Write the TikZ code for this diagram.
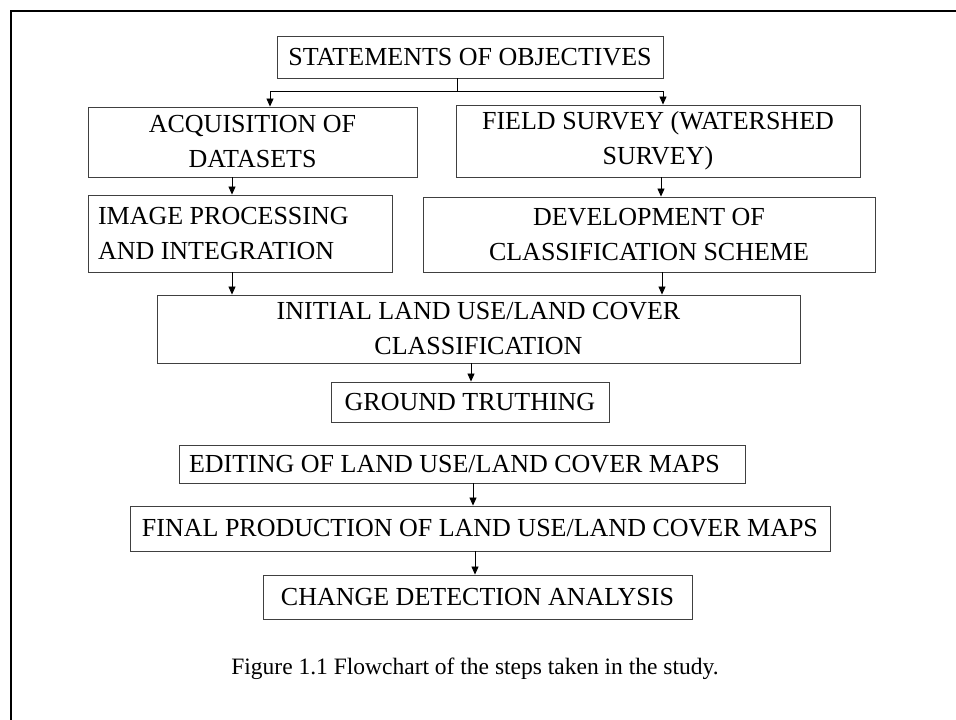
\documentclass[tikz,border=0pt]{standalone}
\usepackage{fontspec}
\setmainfont{Liberation Serif}
\usetikzlibrary{arrows.meta,positioning}

\begin{document}
\begin{tikzpicture}[
  x=1pt, y=-1pt,
  block/.style={draw=black!75, line width=0.9pt, inner sep=0pt, align=center, font=\fontsize{26}{35}\selectfont},
  leftblock/.style={block, align=flush left, inner xsep=10pt},
  arrow/.style={-{Triangle[length=8pt,width=7pt]}, line width=0.8pt}
]
\useasboundingbox (0,0) rectangle (956,720);
\draw[line width=2.5pt] (11,720) -- (11,11) -- (956,11);

\node[block, minimum width=386pt, minimum height=42pt] (stmt) at (470,57) {STATEMENTS OF OBJECTIVES};
\node[block, minimum width=329pt, minimum height=70pt] (acq) at (252.5,142) {ACQUISITION OF\\DATASETS};
\node[block, minimum width=404pt, minimum height=72pt] (field) at (658,141) {FIELD SURVEY (WATERSHED\\SURVEY)};
\node[leftblock, text width=284pt, minimum height=77pt] (image) at (240,233.5) {IMAGE PROCESSING\\AND INTEGRATION};
\node[block, minimum width=452pt, minimum height=75pt] (dev) at (649,234.5) {DEVELOPMENT OF\\CLASSIFICATION SCHEME};
\node[block, minimum width=643pt, minimum height=68pt] (init) at (478.5,329) {INITIAL LAND USE/LAND COVER\\CLASSIFICATION};
\node[block, minimum width=278pt, minimum height=40pt] (ground) at (470,402) {GROUND TRUTHING};
\node[leftblock, text width=546pt, minimum height=38pt] (edit) at (462,464) {EDITING OF LAND USE/LAND COVER MAPS};
\node[block, minimum width=700pt, minimum height=45pt] (final) at (480,528.5) {FINAL PRODUCTION OF LAND USE/LAND COVER MAPS};
\node[block, minimum width=429pt, minimum height=44pt] (change) at (477.5,597) {CHANGE DETECTION ANALYSIS};

\node[anchor=base, font=\fontsize{23.5}{28}\selectfont] (caption) at (475,674) {Figure 1.1 Flowchart of the steps taken in the study.};

% split below the objectives
\coordinate (split) at (457,91);
\draw[line width=0.8pt] ([xshift=-13pt]stmt.south) -- (split);
\draw[arrow] (split) -| ([xshift=17.5pt]acq.north);
\draw[arrow] (split) -| ([xshift=5pt]field.north);

\draw[arrow] ([xshift=-20.5pt]acq.south) -- ([xshift=-20.5pt]acq.south |- image.north);
\draw[arrow] ([xshift=3pt]field.south) -- ([xshift=3pt]field.south |- dev.north);
\draw[arrow] ([xshift=-8pt]image.south) -- ([xshift=-8pt]image.south |- init.north);
\draw[arrow] ([xshift=13pt]dev.south) -- ([xshift=13pt]dev.south |- init.north);
\draw[arrow] ([xshift=-7.5pt]init.south) -- ([xshift=-7.5pt]init.south |- ground.north);
\draw[arrow] ([xshift=11pt]edit.south) -- ([xshift=11pt]edit.south |- final.north);
\draw[arrow] ([xshift=-5pt]final.south) -- ([xshift=-5pt]final.south |- change.north);
\end{tikzpicture}
\end{document}
